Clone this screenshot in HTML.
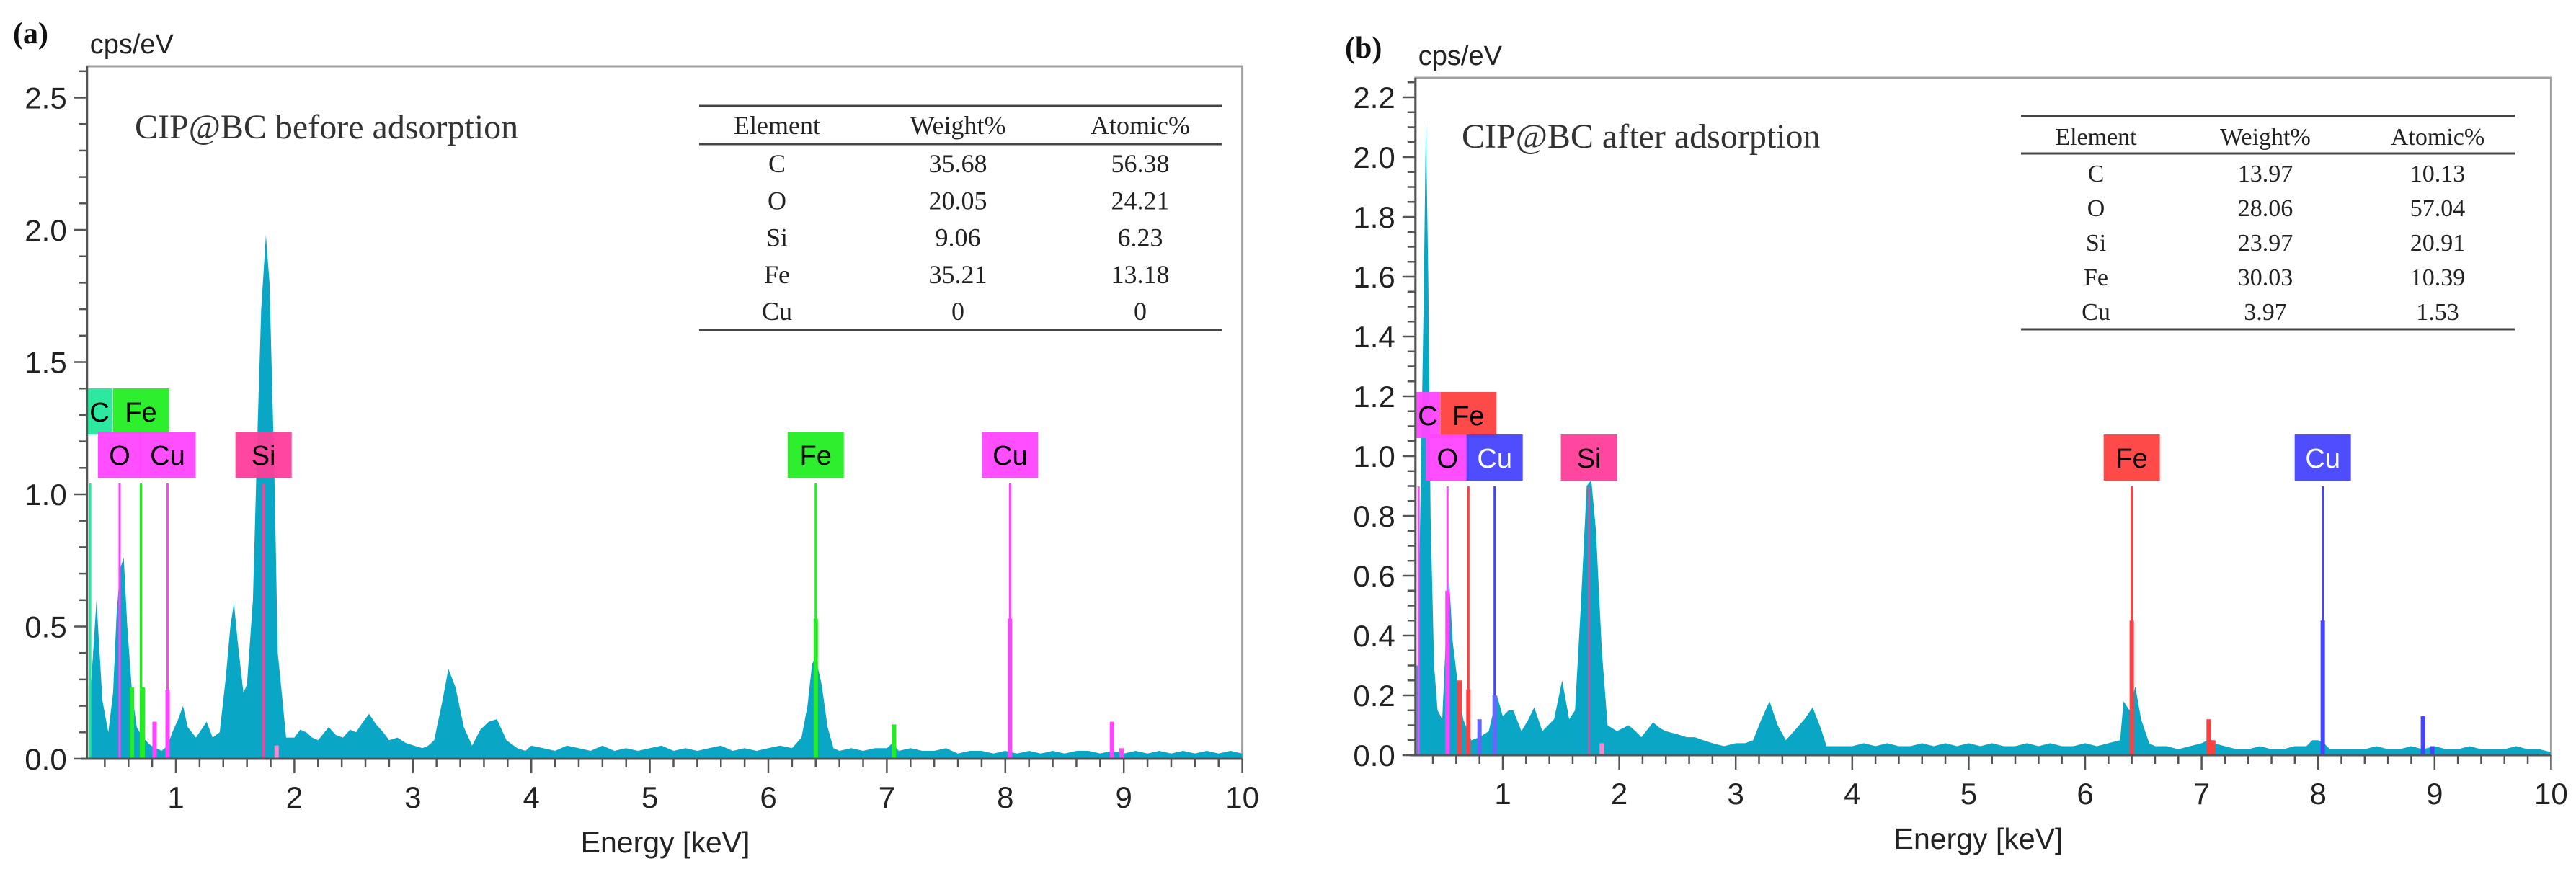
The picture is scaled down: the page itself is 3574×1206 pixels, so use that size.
<!DOCTYPE html>
<html><head><meta charset="utf-8"><style>
html,body{margin:0;padding:0;background:#fff;}
svg{display:block;}
</style></head><body>
<svg id="fig" width="3574" height="1206" viewBox="0 0 3574 1206" xmlns="http://www.w3.org/2000/svg"></svg>
<script>
// ---------- Panel (a) data ----------
const energiesA = [0.27,0.28,0.33,0.35,0.38,0.43,0.47,0.50,0.53,0.56,0.59,0.63,0.67,0.72,0.79,0.88,0.93,0.97,1.02,1.06,1.10,1.17,1.26,1.31,1.37,1.42,1.46,1.49,1.52,1.57,1.60,1.65,1.69,1.72,1.76,1.79,1.83,1.86,1.90,1.93,2.00,2.05,2.10,2.15,2.20,2.29,2.35,2.41,2.47,2.52,2.58,2.63,2.69,2.75,2.80,2.87,2.94,3.01,3.08,3.13,3.18,3.25,3.30,3.36,3.43,3.50,3.57,3.64,3.71,3.79,3.88,3.95,4.0,4.1,4.2,4.3,4.4,4.5,4.6,4.7,4.8,4.9,5.0,5.1,5.2,5.3,5.4,5.5,5.6,5.7,5.8,5.9,6.0,6.1,6.2,6.28,6.33,6.37,6.40,6.45,6.50,6.55,6.6,6.7,6.8,6.9,7.0,7.05,7.1,7.2,7.3,7.4,7.5,7.6,7.7,7.8,7.9,8.0,8.1,8.2,8.3,8.4,8.5,8.6,8.7,8.8,8.9,9.0,9.1,9.2,9.3,9.4,9.5,9.6,9.7,9.8,9.9,10.0];
const countsA = [0.25,0.25,0.60,0.45,0.22,0.10,0.25,0.55,0.72,0.76,0.50,0.25,0.12,0.08,0.05,0.03,0.05,0.10,0.15,0.20,0.12,0.08,0.14,0.08,0.10,0.30,0.50,0.59,0.45,0.25,0.28,0.60,1.25,1.70,1.98,1.80,1.10,0.40,0.22,0.08,0.08,0.11,0.10,0.08,0.07,0.12,0.09,0.08,0.11,0.10,0.14,0.17,0.13,0.10,0.07,0.08,0.06,0.05,0.04,0.05,0.07,0.22,0.34,0.27,0.12,0.05,0.11,0.14,0.15,0.07,0.04,0.03,0.05,0.04,0.03,0.05,0.04,0.03,0.05,0.03,0.04,0.03,0.04,0.05,0.03,0.04,0.03,0.04,0.05,0.03,0.04,0.03,0.04,0.05,0.04,0.08,0.20,0.36,0.38,0.28,0.12,0.04,0.03,0.04,0.03,0.04,0.04,0.06,0.03,0.04,0.03,0.03,0.04,0.02,0.03,0.03,0.02,0.03,0.02,0.03,0.02,0.03,0.02,0.03,0.03,0.02,0.03,0.02,0.03,0.02,0.03,0.02,0.03,0.02,0.03,0.02,0.03,0.02];
const markerLabelsA = ["C","Fe","O","Cu","Si","Fe","Cu"];
const markerEnergiesA = [0.277,0.705,0.525,0.93,1.74,6.40,8.04];
const markerRowsA = [0,0,1,1,1,1,1];
const markerColorsA = ["#22e89a","#22ee22","#ff44ff","#ff44ff","#ff3d9a","#22ee22","#ff44ff"];
const markerTextA = ["#000","#000","#000","#000","#000","#000","#000"];
const barEnergiesA = [0.63,0.72,0.82,0.93,1.74,1.85,6.40,7.06,8.04,8.90,8.98];
const barCountsA = [0.27,0.27,0.14,0.26,0.0,0.05,0.53,0.13,0.53,0.14,0.04];
const barColorsA = ["#22ee22","#22ee22","#ff44ff","#ff44ff","#ff3d9a","#ff88cc","#22ee22","#22ee22","#ff44ff","#ff44ff","#ff44ff"];
const yTicksA = ["0.0","0.5","1.0","1.5","2.0","2.5"];
const tableElementsA = ["C","O","Si","Fe","Cu"];
const tableWeightA = ["35.68","20.05","9.06","35.21","0"];
const tableAtomicA = ["56.38","24.21","6.23","13.18","0"];

// ---------- Panel (b) data ----------
const energiesB = [0.26,0.27,0.32,0.34,0.36,0.38,0.41,0.44,0.48,0.51,0.54,0.57,0.61,0.66,0.73,0.80,0.88,0.95,1.00,1.05,1.09,1.16,1.22,1.27,1.34,1.44,1.51,1.57,1.62,1.67,1.72,1.76,1.80,1.85,1.90,1.98,2.03,2.08,2.14,2.19,2.29,2.35,2.40,2.50,2.58,2.65,2.72,2.80,2.90,3.00,3.08,3.15,3.22,3.29,3.36,3.43,3.50,3.59,3.66,3.73,3.78,3.9,4.0,4.1,4.2,4.3,4.4,4.5,4.6,4.7,4.8,4.9,5.0,5.1,5.2,5.3,5.4,5.5,5.6,5.7,5.8,5.9,6.0,6.1,6.2,6.30,6.33,6.38,6.43,6.48,6.55,6.6,6.7,6.8,6.9,7.0,7.05,7.1,7.2,7.3,7.4,7.5,7.6,7.7,7.8,7.9,7.95,8.0,8.05,8.1,8.2,8.3,8.4,8.5,8.6,8.7,8.8,8.9,9.0,9.1,9.2,9.3,9.4,9.5,9.6,9.7,9.8,9.9,10.0];
const countsB = [0.30,0.30,1.50,2.12,1.60,0.80,0.30,0.15,0.12,0.38,0.58,0.38,0.25,0.12,0.05,0.06,0.08,0.20,0.13,0.15,0.15,0.08,0.12,0.16,0.08,0.12,0.25,0.12,0.15,0.50,0.90,0.92,0.75,0.35,0.10,0.08,0.09,0.10,0.08,0.06,0.11,0.09,0.08,0.07,0.06,0.06,0.05,0.04,0.03,0.04,0.04,0.05,0.12,0.18,0.10,0.05,0.08,0.12,0.16,0.09,0.03,0.03,0.03,0.04,0.03,0.04,0.03,0.03,0.04,0.03,0.04,0.03,0.04,0.03,0.04,0.03,0.03,0.04,0.03,0.04,0.03,0.03,0.04,0.03,0.04,0.05,0.18,0.15,0.23,0.12,0.04,0.03,0.03,0.02,0.03,0.04,0.05,0.04,0.03,0.02,0.02,0.03,0.02,0.02,0.03,0.03,0.05,0.05,0.04,0.02,0.02,0.02,0.02,0.03,0.02,0.02,0.03,0.02,0.03,0.02,0.02,0.03,0.02,0.02,0.02,0.03,0.02,0.02,0.01];
const markerLabelsB = ["C","Fe","O","Cu","Si","Fe","Cu"];
const markerEnergiesB = [0.277,0.705,0.525,0.93,1.74,6.40,8.04];
const markerRowsB = [0,0,1,1,1,1,1];
const markerColorsB = ["#ff44ff","#ff4040","#ff44ff","#4444ff","#ff3d9a","#ff4040","#4444ff"];
const markerTextB = ["#000","#000","#000","#fff","#000","#000","#fff"];
const barEnergiesB = [0.525,0.63,0.705,0.80,0.93,1.74,1.85,6.40,7.06,7.10,8.04,8.90,8.98];
const barCountsB = [0.55,0.25,0.22,0.12,0.20,0.0,0.04,0.45,0.12,0.05,0.45,0.13,0.03];
const barColorsB = ["#ff44ff","#ff4040","#ff4040","#6666ff","#6666ff","#ff3d9a","#ff88cc","#ff4040","#ff4040","#ff4040","#4444ff","#4444ff","#4444ff"];
const yTicksB = ["0.0","0.2","0.4","0.6","0.8","1.0","1.2","1.4","1.6","1.8","2.0","2.2"];
const tableElementsB = ["C","O","Si","Fe","Cu"];
const tableWeightB = ["13.97","28.06","23.97","30.03","3.97"];
const tableAtomicB = ["10.13","57.04","20.91","10.39","1.53"];
const xTicks = ["1","2","3","4","5","6","7","8","9","10"];

const NS = "http://www.w3.org/2000/svg";
const svg = document.getElementById('fig');
function mk(tag, attrs, parent, text){
  const e = document.createElementNS(NS, tag);
  for (const k in attrs) e.setAttribute(k, attrs[k]);
  if (text !== undefined) e.textContent = text;
  (parent || svg).appendChild(e);
  return e;
}

function panel(cfg){
  const g = mk('g', {});
  
  
  const xS = e => cfg.x1 + (e - 1) * cfg.pxPerKeV;
  const yS = v => cfg.y0 - v * cfg.pxPerUnit;
  const left = xS(cfg.eMin), right = xS(10);
  const clipId = cfg.name + '-clip';
  const defs = mk('defs', {}, g);
  const cp = mk('clipPath', {id: clipId}, defs);
  mk('rect', {x: left, y: cfg.top, width: right - left, height: cfg.y0 - cfg.top}, cp);

  // frame
  const frame = mk('rect', {x: left, y: cfg.top, width: right - left, height: cfg.y0 - cfg.top, fill: 'none', stroke: '#a0a0a0', 'stroke-width': 3}, g);
  
  

  // spectrum area
  let d = 'M' + xS(cfg.energies[0]) + ',' + yS(0);
  for (let i = 0; i < cfg.energies.length; i++) d += ' L' + xS(cfg.energies[i]).toFixed(1) + ',' + yS(cfg.counts[i]).toFixed(1);
  d += ' L' + xS(cfg.energies[cfg.energies.length - 1]) + ',' + yS(0) + ' Z';
  const area = mk('path', {d: d, fill: '#0aa6c6', 'clip-path': 'url(#' + clipId + ')'}, g);
  
  

  // marker lines and label boxes
  const rowTop = [cfg.rowY0, cfg.rowY1];
  const boxH = 64;
  const lineTop = cfg.rowY1 + boxH + 8;
  for (let i = 0; i < cfg.mLabels.length; i++){
    const cx = xS(cfg.mEnergies[i]);
    const ln = mk('line', {x1: cx, x2: cx, y1: lineTop, y2: yS(0), stroke: cfg.mColors[i], 'stroke-width': 3, 'clip-path': 'url(#' + clipId + ')'}, g);
    
    
  }
  for (let i = 0; i < cfg.bEnergies.length; i++){
    const cx = xS(cfg.bEnergies[i]);
    if (cfg.bCounts[i] <= 0) continue;
    const b = mk('rect', {x: cx - 3, y: yS(cfg.bCounts[i]), width: 6, height: yS(0) - yS(cfg.bCounts[i]), fill: cfg.bColors[i]}, g);
    
    
  }
  for (let i = 0; i < cfg.mLabels.length; i++){
    const cx = xS(cfg.mEnergies[i]);
    const w = cfg.mLabels[i].length > 1 ? 78 : 60;
    const bx = Math.max(left, cx - w / 2);
    const bw = (cx + w / 2) - bx;
    const y = rowTop[cfg.mRows[i]];
    const gg = mk('g', {}, g);
    
    
    mk('rect', {x: bx, y: y, width: bw, height: boxH, fill: cfg.mColors[i], opacity: 0.95}, gg);
    mk('text', {x: bx + bw / 2 + (cx - w/2 < left ? (cx + w/2 - bx - bw) : 0), y: y + 46, 'text-anchor': 'middle', 'font-family': 'Liberation Sans, DejaVu Sans, sans-serif', 'font-size': 38, fill: cfg.mText[i]}, gg, cfg.mLabels[i]);
  }

  // axes
  mk('line', {x1: left, x2: left, y1: cfg.top, y2: yS(0), stroke: '#555', 'stroke-width': 3}, g);
  mk('line', {x1: left - 8, x2: right, y1: yS(0), y2: yS(0), stroke: '#555', 'stroke-width': 3}, g);
  // y ticks
  const nMinor = Math.round(cfg.yMax / cfg.yMinor);
  for (let k = 0; k <= nMinor; k++){
    const v = k * cfg.yMinor;
    const isMajor = Math.abs(v / cfg.yMajor - Math.round(v / cfg.yMajor)) < 1e-6;
    mk('line', {x1: left - (isMajor ? 18 : 11), x2: left, y1: yS(v), y2: yS(v), stroke: '#555', 'stroke-width': 2.5}, g);
  }
  for (let k = 0; k < cfg.yTicks.length; k++){
    const t = mk('text', {x: left - 28, y: yS(parseFloat(cfg.yTicks[k])) + 15, 'text-anchor': 'end', 'font-family': 'Liberation Sans, DejaVu Sans, sans-serif', 'font-size': 42, fill: '#222'}, g, cfg.yTicks[k]);
    
    
  }
  // x ticks
  for (let k = 2; k <= 50; k++){
    const e = k * 0.2;
    if (e < cfg.eMin) continue;
    const isMajor = k % 5 === 0;
    mk('line', {x1: xS(e), x2: xS(e), y1: yS(0), y2: yS(0) + (isMajor ? 20 : 12), stroke: '#555', 'stroke-width': 2.5}, g);
  }
  for (let k = 0; k < xTicks.length; k++){
    const t = mk('text', {x: xS(parseFloat(xTicks[k])), y: yS(0) + 68, 'text-anchor': 'middle', 'font-family': 'Liberation Sans, DejaVu Sans, sans-serif', 'font-size': 42, fill: '#222'}, g, xTicks[k]);
    
    
  }
  const xt = mk('text', {x: cfg.xTitleX, y: yS(0) + 130, 'text-anchor': 'middle', 'font-family': 'Liberation Sans, DejaVu Sans, sans-serif', 'font-size': 41, fill: '#222'}, g, 'Energy [keV]');
  
  
  const yt = mk('text', {x: left + 4, y: cfg.top - 18, 'font-family': 'Liberation Sans, DejaVu Sans, sans-serif', 'font-size': 38, fill: '#222'}, g, 'cps/eV');
  
  
  const pl = mk('text', {x: cfg.letterX, y: cfg.letterY, 'font-family': 'Liberation Serif, serif', 'font-size': 42, 'font-weight': 'bold', fill: '#111'}, g, cfg.letter);
  
  
  const ti = mk('text', {x: cfg.titleX, y: cfg.titleY, 'font-family': 'Liberation Serif, serif', 'font-size': 48, fill: '#333'}, g, cfg.title);
  
  

  // table
  const tb = mk('g', {}, g);
  
  
  const T = cfg.table;
  mk('line', {x1: T.x0, x2: T.x1, y1: T.top, y2: T.top, stroke: '#444', 'stroke-width': 3}, tb);
  mk('line', {x1: T.x0, x2: T.x1, y1: T.hdr, y2: T.hdr, stroke: '#444', 'stroke-width': 3}, tb);
  mk('line', {x1: T.x0, x2: T.x1, y1: T.bot, y2: T.bot, stroke: '#444', 'stroke-width': 3}, tb);
  const tf = {'text-anchor': 'middle', 'font-family': 'Liberation Serif, serif', 'font-size': T.fs, fill: '#222'};
  const heads = ['Element', 'Weight%', 'Atomic%'];
  for (let c = 0; c < 3; c++) mk('text', Object.assign({x: T.cols[c], y: T.headY + 12}, tf), tb, heads[c]);
  for (let r = 0; r < cfg.tEl.length; r++){
    const y = T.row0 + r * T.rowH + 12;
    mk('text', Object.assign({x: T.cols[0], y: y}, tf), tb, cfg.tEl[r]);
    mk('text', Object.assign({x: T.cols[1], y: y}, tf), tb, cfg.tW[r]);
    mk('text', Object.assign({x: T.cols[2], y: y}, tf), tb, cfg.tA[r]);
  }
}

panel({name: 'panel-a', x1: 244, pxPerKeV: 164.4, y0: 1053, pxPerUnit: 367, eMin: 0.25, top: 92, yMax: 2.6, yMajor: 0.5, yMinor: 0.1,
  energies: energiesA, counts: countsA, mLabels: markerLabelsA, mEnergies: markerEnergiesA, mRows: markerRowsA, mColors: markerColorsA, mText: markerTextA,
  bEnergies: barEnergiesA, bCounts: barCountsA, bColors: barColorsA, yTicks: yTicksA, rowY0: 539, rowY1: 599,
  xTitleX: 923, letter: '(a)', letterX: 18, letterY: 60, title: 'CIP@BC before adsorption', titleX: 187, titleY: 192,
  table: {x0: 970, x1: 1695, top: 147, hdr: 200, bot: 458, headY: 174, row0: 227, rowH: 51.3, cols: [1078, 1329, 1582], fs: 36},
  tEl: tableElementsA, tW: tableWeightA, tA: tableAtomicA});

panel({name: 'panel-b', x1: 2085, pxPerKeV: 161.6, y0: 1048, pxPerUnit: 415, eMin: 0.25, top: 108, yMax: 2.25, yMajor: 0.2, yMinor: 0.05,
  energies: energiesB, counts: countsB, mLabels: markerLabelsB, mEnergies: markerEnergiesB, mRows: markerRowsB, mColors: markerColorsB, mText: markerTextB,
  bEnergies: barEnergiesB, bCounts: barCountsB, bColors: barColorsB, yTicks: yTicksB, rowY0: 544, rowY1: 603,
  xTitleX: 2745, letter: '(b)', letterX: 1866, letterY: 80, title: 'CIP@BC after adsorption', titleX: 2028, titleY: 205,
  table: {x0: 2804, x1: 3489, top: 161, hdr: 213, bot: 457, headY: 189, row0: 240, rowH: 48, cols: [2908, 3143, 3382], fs: 34},
  tEl: tableElementsB, tW: tableWeightB, tA: tableAtomicB});
</script>
</body></html>
